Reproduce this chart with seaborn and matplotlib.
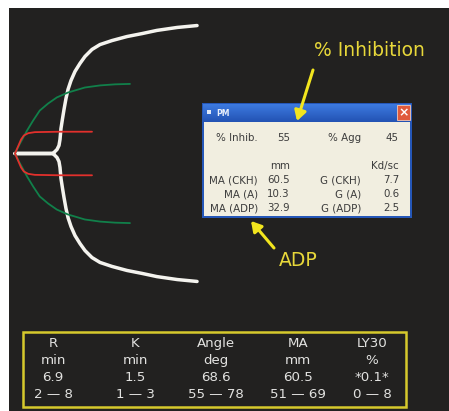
"""
teg_platelet_mapping.py
Recreates a TEG PlateletMapping screen: tracings, PM dialog and result table.
"""

import numpy as np
import pandas as pd
import matplotlib
matplotlib.use('Agg')
import matplotlib.pyplot as plt
import seaborn as sns
from matplotlib.colors import LinearSegmentedColormap
from matplotlib.patches import Rectangle, FancyArrowPatch

# ----------------------------------------------------------------------
# Data — tracings as time (min) vs full amplitude (mm)
# ----------------------------------------------------------------------
CKH_TIME = [0, 6.9, 7.64, 8.0, 8.18, 8.36, 8.64, 8.91, 9.27, 9.64, 10.18, 10.91,
            11.82, 12.73, 14.0, 15.45, 17.64, 20.36, 23.1, 25.8, 29.5, 33.1]
CKH_AMP = [0, 0, 1.9, 3.8, 6.6, 11.8, 16.5, 20.8, 26.0, 30.3, 34.5, 38.8,
           42.6, 45.9, 49.2, 51.5, 53.4, 55.3, 56.7, 58.2, 59.6, 60.5]

ADP_TIME = [0, 0.9, 2.2, 3.3, 4.5, 6.0, 7.6, 9.6, 12.7, 15.5, 18.2, 20.9]
ADP_AMP = [0, 4.7, 10.9, 15.6, 20.3, 23.6, 26.5, 28.8, 31.2, 32.2, 32.7, 32.9]

A_TIME = [0, 0.55, 1.1, 1.6, 2.4, 3.6, 8.2, 14.0]
A_AMP = [0, 3.3, 6.6, 8.5, 9.6, 10.1, 10.3, 10.3]

INHIBITION = 55
AGGREGATION = 45
PM_MA_LABELS = ['MA (CKH)', 'MA (A)', 'MA (ADP)']
PM_MA_VALUES = [60.5, 10.3, 32.9]
PM_G_LABELS = ['G (CKH)', 'G (A)', 'G (ADP)']
PM_G_VALUES = [7.7, 0.6, 2.5]

TABLE_HEADERS = ['R', 'K', 'Angle', 'MA', 'LY30']
TABLE_UNITS = ['min', 'min', 'deg', 'mm', '%']
TABLE_VALUES = ['6.9', '1.5', '68.6', '60.5', '*0.1*']
TABLE_RANGES = ['2 — 8', '1 — 3', '55 — 78', '51 — 69', '0 — 8']

BG = '#222120'
YELLOW = '#e8d83a'
ARROW_YELLOW = '#f2e51e'

# pixel layout of the screen
W, H = 449, 411
PX_PER_MIN = 5.5
PX_PER_MM = 4.23
ORIGIN_X, ORIGIN_Y = 15, 153.5
PANEL_LEFT, PANEL_TOP = 9, 8


def mirrored(time, amp):
    # one path: lower branch back to origin, then upper branch out
    t = list(time[::-1]) + list(time)
    y = [-a / 2 for a in amp[::-1]] + [a / 2 for a in amp]
    return pd.DataFrame({'time': t, 'amp': y})


def draw_tracings(fig):
    ax = fig.add_axes([PANEL_LEFT / W, 0, (W - PANEL_LEFT) / W, (H - PANEL_TOP) / H])
    ax.set_facecolor(BG)
    for trace, color, lw in [((CKH_TIME, CKH_AMP), '#f4f3ee', 2.5),
                             ((ADP_TIME, ADP_AMP), '#11804a', 1.3),
                             ((A_TIME, A_AMP), '#e2302c', 1.3)]:
        df = mirrored(*trace)
        sns.lineplot(data=df, x='time', y='amp', sort=False, estimator=None,
                     color=color, linewidth=lw, ax=ax)
    for line in ax.get_lines():
        line.set_solid_joinstyle('round')
    ax.set_xlim((PANEL_LEFT - ORIGIN_X) / PX_PER_MIN, (W - ORIGIN_X) / PX_PER_MIN)
    ax.set_ylim((ORIGIN_Y - H) / PX_PER_MM, (ORIGIN_Y - PANEL_TOP) / PX_PER_MM)
    ax.set_xticks([])
    ax.set_yticks([])
    ax.set_xlabel('')
    ax.set_ylabel('')
    for s in ax.spines.values():
        s.set_visible(False)
    return ax


def draw_dialog(ov):
    # window frame + title bar gradient
    ov.add_patch(Rectangle((202, 103), 210, 115, facecolor='#2557b8', edgecolor='none'))
    grad = np.linspace(0, 1, 20).reshape(-1, 1)
    ov.imshow(grad, extent=(203, 411, 122, 104),
              cmap=LinearSegmentedColormap.from_list('xp', ['#3d7ae0', '#2353b4']),
              aspect='auto', zorder=2)
    ov.add_patch(Rectangle((204, 122), 206, 94, facecolor='#f1eee0', edgecolor='none', zorder=3))
    ov.add_patch(Rectangle((397, 105), 13, 15, facecolor='#e05a3c', edgecolor='#f3c8b8',
                           linewidth=0.6, zorder=3))
    ov.text(403.5, 112.5, '×', color='white', fontsize=9, fontweight='bold',
            ha='center', va='center', zorder=4)
    ov.add_patch(Rectangle((207, 110), 4, 4, facecolor='#dfe8f8', edgecolor='none', zorder=4))
    ov.text(216, 113, 'PM', color='#e8eefa', fontsize=5.5, fontweight='bold',
            va='center', zorder=4)

    kw = dict(color='#3c3c3c', fontsize=7.4, va='center', ha='right', zorder=4)
    ov.text(258, 138, '% Inhib.', **kw)
    ov.text(290, 138, f'{INHIBITION}', **kw)
    ov.text(361, 138, '% Agg', **kw)
    ov.text(399, 138, f'{AGGREGATION}', **kw)
    ov.text(290, 166, 'mm', **kw)
    ov.text(399, 166, 'Kd/sc', **kw)
    for i, y in enumerate([180, 194, 208]):
        ov.text(258, y, PM_MA_LABELS[i], **kw)
        ov.text(290, y, f'{PM_MA_VALUES[i]:.1f}', **kw)
        ov.text(361, y, PM_G_LABELS[i], **kw)
        ov.text(399, y, f'{PM_G_VALUES[i]:.1f}', **kw)


def draw_callouts(ov):
    ov.text(369, 50, '% Inhibition', color=YELLOW, fontsize=13.5, ha='center', va='center')
    ov.text(298, 260, 'ADP', color=YELLOW, fontsize=13.5, ha='center', va='center')
    for start, end in [((313, 70), (297, 121)), ((274, 248), (251, 221))]:
        ov.add_patch(FancyArrowPatch(start, end, arrowstyle='-|>,head_width=3.5,head_length=6',
                                     color=ARROW_YELLOW, linewidth=2.2, zorder=5,
                                     shrinkA=0, shrinkB=0))


def draw_table(ov):
    ov.add_patch(Rectangle((23, 332), 383, 75, facecolor='none', edgecolor='#d6c92c',
                           linewidth=1.8, zorder=3))
    col_x = [53, 135, 216, 298, 372]
    rows = [TABLE_HEADERS, TABLE_UNITS, TABLE_VALUES, TABLE_RANGES]
    for y, row in zip([343, 360.5, 377.5, 394.5], rows):
        for x, txt in zip(col_x, row):
            ov.text(x, y, txt, color='#e2e2e0', fontsize=9.6, ha='center', va='center')


def main():
    sns.set_style('dark')
    plt.rcParams['font.family'] = ['DejaVu Sans']

    fig = plt.figure(figsize=(W / 100, H / 100), dpi=100, facecolor='white')
    draw_tracings(fig)

    ov = fig.add_axes([0, 0, 1, 1])
    ov.set_xlim(0, W)
    ov.set_ylim(H, 0)
    ov.patch.set_alpha(0)
    ov.axis('off')

    draw_dialog(ov)
    draw_callouts(ov)
    draw_table(ov)

    fig.savefig('out.png', dpi=100)


if __name__ == '__main__':
    main()
